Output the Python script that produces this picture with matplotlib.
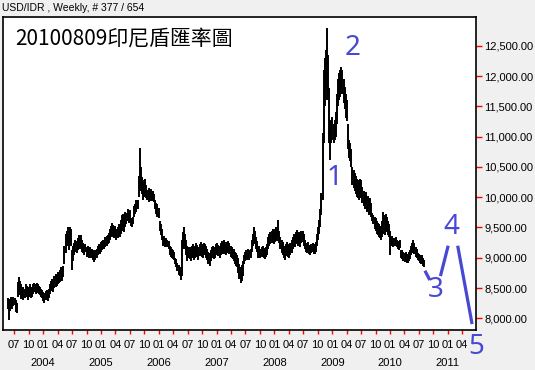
import numpy as np
import pandas as pd
import matplotlib
matplotlib.use('Agg')
import matplotlib.pyplot as plt
import matplotlib.dates as mdates
from matplotlib.ticker import FuncFormatter

# --- datos semanales USD/IDR ---
first_week = '2003-05-23'

week_lo = [
    8150, 7970, 8120, 8180, 8150, 8200, 8220, 8100, 8090,
    8350, 8450, 8380, 8320,
    8330, 8300, 8340, 8380, 8360, 8310, 8350, 8370, 8340, 8360,
    8400, 8430, 8410, 8440, 8420, 8400, 8380, 8350, 8330,
    8280, 8250, 8300, 8320, 8290, 8330,
    8400, 8450, 8470, 8430, 8500, 8520, 8540, 8560, 8580,
    8600, 8640, 8620, 8680,
    8900, 9080,
    9200, 9250, 9130, 9280, 9200,
    8800, 8950,
    9050, 9100, 9080, 9120, 9150, 9140, 9180, 9100,
    9080, 9050, 9100, 9020, 9050, 9000, 9040, 8990, 9000, 8960, 8930, 8970,
    9000, 9050, 9080, 9060, 9100, 9120, 9150, 9140, 9180, 9200, 9220, 9250,
    9300, 9340, 9380, 9350, 9330, 9360, 9300, 9320, 9350,
    9350, 9400, 9450, 9480, 9430, 9500,
    9560, 9600, 9580, 9620,
    9520, 9510, 9550,
    9680, 9720, 9750, 9800,
    10000, 10150, 10100,
    10050, 9950, 10000, 10020, 9980,
    9950, 9920, 9980, 9940, 9960, 9930, 9920,
    9800, 9720, 9680, 9650,
    9450, 9380, 9300,
    9200, 9220, 9180, 9200, 9170, 9150,
    9050, 9020, 9000, 8980, 8960,
    8900, 8850, 8780, 8720, 8700, 8637,
    8700, 9150, 9200, 9150,
    9050, 8950, 9000,
    8980, 8950, 9000, 9020, 8960, 8990, 9040, 9010, 8970, 9030,
    9050, 9020, 9000, 9060, 9040, 8990, 8960, 8900, 8870, 8950,
    8990, 9020, 8980, 9000, 9040, 9060, 9030, 9000, 9050, 9080,
    9060, 9100, 9070, 9040, 9080, 9100, 9060, 9020, 9000, 8980,
    8950, 8900, 8870, 8850,
    8750, 8650, 8583, 8620, 8700,
    8900, 8950, 8980, 8960, 9000, 8970, 9000,
    9100, 9200, 9250, 9220, 9150, 9100,
    9000, 9020, 8990, 9010, 9030, 9000, 8980, 9020, 9050,
    9150, 9200, 9230, 9250, 9280, 9220, 9260, 9300, 9280, 9350, 9250,
    9150, 9080, 9050, 9000, 8970, 9030, 9060, 9020, 9000, 9050, 9080,
    9150, 9200, 9180, 9230, 9250, 9200, 9220, 9180, 9240, 9260, 9200,
    9150, 9100, 9080, 9120, 9060, 9050, 9080, 9100, 9070, 9060, 9100,
    9200, 9300, 9400,
    9500, 9700,
    9950,
    10900, 11500, 11800, 11600, 11700,
    10900, 10610,
    10900, 10950, 10890, 10950, 11000,
    11200, 11500, 11600, 11650, 11800, 11700,
    11550, 11450, 11300, 11250,
    10800, 10650, 10600, 10500,
    10200, 10150, 10100, 10050, 10000, 9980, 9950, 10000, 9980,
    9900, 9850, 9800, 9820, 9750, 9780, 9700, 9720, 9680,
    9600, 9550, 9480, 9450, 9400, 9380, 9350, 9320, 9300,
    9350, 9400, 9380, 9450, 9420, 9380, 9350, 9050,
    9200, 9230, 9180, 9200, 9220, 9170, 9150, 9130, 9160,
    9000, 8980, 8950, 8930, 8960, 8920, 8910, 8950, 8980,
    9050, 9080, 9100, 9060, 9020, 9000,
    8960, 8950, 8920, 8900, 8900, 8870, 8850,
]

week_hi = [
    8330, 8300, 8320, 8360, 8300, 8350, 8340, 8300, 8250,
    8600, 8690, 8620, 8560,
    8500, 8520, 8480, 8560, 8540, 8500, 8510, 8560, 8520, 8500,
    8560, 8580, 8570, 8590, 8560, 8540, 8520, 8480, 8460,
    8440, 8420, 8450, 8460, 8430, 8480,
    8560, 8610, 8650, 8620, 8700, 8740, 8720, 8760, 8770,
    8800, 8850, 8830, 8870,
    9200, 9400,
    9450, 9510, 9420, 9500, 9470,
    9130, 9200,
    9250, 9300, 9280, 9330, 9370, 9350, 9380, 9300,
    9250, 9200, 9230, 9180, 9200, 9160, 9180, 9150, 9140, 9130, 9080, 9120,
    9150, 9200, 9230, 9210, 9260, 9280, 9300, 9290, 9340, 9360, 9380, 9410,
    9480, 9520, 9570, 9540, 9500, 9530, 9480, 9500, 9550,
    9560, 9620, 9700, 9720, 9650, 9750,
    9740, 9800, 9760, 9790,
    9660, 9650, 9680,
    9860, 9880, 9950, 9960,
    10350, 10811, 10500,
    10330, 10250, 10280, 10300, 10200,
    10120, 10150, 10100, 10130, 10080, 10110, 10060,
    9950, 9900, 9880, 9820,
    9600, 9560, 9480,
    9340, 9360, 9320, 9330, 9300, 9280,
    9200, 9180, 9150, 9130, 9100,
    9000, 8980, 8920, 8880, 8840, 8800,
    9300, 9420, 9508, 9400,
    9300, 9200, 9180,
    9180, 9150, 9200, 9230, 9170, 9190, 9240, 9210, 9180, 9230,
    9260, 9220, 9200, 9250, 9230, 9190, 9150, 9100, 9080, 9130,
    9170, 9200, 9160, 9180, 9220, 9250, 9210, 9190, 9240, 9270,
    9250, 9290, 9260, 9230, 9260, 9280, 9240, 9200, 9180, 9150,
    9150, 9100, 9080, 9050,
    9000, 8900, 8850, 8880, 8950,
    9050, 9100, 9130, 9110, 9140, 9120, 9150,
    9300, 9400, 9508, 9450, 9350, 9280,
    9180, 9200, 9150, 9170, 9190, 9160, 9140, 9180, 9220,
    9350, 9400, 9420, 9450, 9480, 9430, 9470, 9500, 9480, 9620, 9450,
    9340, 9300, 9260, 9200, 9180, 9230, 9260, 9220, 9200, 9250, 9300,
    9350, 9400, 9380, 9430, 9460, 9400, 9420, 9380, 9440, 9450, 9400,
    9290, 9250, 9230, 9260, 9210, 9200, 9230, 9250, 9220, 9210, 9260,
    9400, 9500, 9620,
    9800, 10066,
    11056,
    12100, 12300, 12430, 12792, 12350,
    11800, 11270,
    11250, 11320, 11200, 11280, 11400,
    11700, 11950, 12050, 12100, 12150, 12100,
    11950, 11820, 11700, 11600,
    11200, 10950, 10900, 10800,
    10500, 10450, 10400, 10350, 10300, 10280, 10250, 10300, 10280,
    10170, 10100, 10050, 10080, 10000, 10020, 9950, 9980, 9900,
    9735, 9700, 9680, 9650, 9600, 9580, 9550, 9520, 9500,
    9600, 9750, 9700, 9720, 9680, 9600, 9550, 9450,
    9340, 9360, 9320, 9330, 9350, 9300, 9280, 9270, 9290,
    9130, 9120, 9100, 9080, 9100, 9060, 9050, 9090, 9120,
    9200, 9250, 9290, 9240, 9180, 9150,
    9078, 9060, 9040, 9020, 9040, 9000, 8970,
]

# --- proyección de ondas (Elliott) ---
wave3_dates = ['2010-08-09', '2010-09-09']
wave3_vals = [8786, 8632]
wave4_dates = ['2010-11-15', '2011-01-03']
wave4_vals = [8698, 9199]
wave5_dates = ['2011-03-04', '2011-06-03']
wave5_vals = [9199, 7906]

wave_labels = ['1', '2', '3', '4', '5']
label_dates = ['2009-01-12', '2009-05-12', '2010-10-16', '2011-01-25', '2011-07-02']
label_vals = [10316, 12462, 8467, 9512, 7526]

y_ticks = [8000, 8500, 9000, 9500, 10000, 10500, 11000, 11500, 12000, 12500]
years = [2004, 2005, 2006, 2007, 2008, 2009, 2010, 2011]

# --- figura ---
fig = plt.figure(figsize=(5.35, 3.70), dpi=100, facecolor='#f0f0f0')
ax = fig.add_axes([0.0065, 0.108, 0.883, 0.846])
ax.set_facecolor('white')

dates = pd.date_range(first_week, periods=len(week_lo), freq='W-FRI')
ax.vlines(dates, week_lo, week_hi, color='black', lw=1.4)

blue = '#4848d4'
for d, v in [(wave3_dates, wave3_vals), (wave4_dates, wave4_vals), (wave5_dates, wave5_vals)]:
    ax.plot(pd.to_datetime(d), v, color=blue, lw=2.3, solid_capstyle='butt')
for t, d, v in zip(wave_labels, label_dates, label_vals):
    ax.text(pd.Timestamp(d), v, t, color=blue, fontsize=20, family='Noto Sans',
            ha='center', va='center', clip_on=False)

ax.set_xlim(pd.Timestamp('2003-04-25'), pd.Timestamp('2011-06-27'))
ax.set_ylim(7807, 12974)

# eje y a la derecha
ax.yaxis.tick_right()
ax.set_yticks(y_ticks)
ax.yaxis.set_major_formatter(FuncFormatter(lambda v, p: f'{v:,.2f}'))
ax.tick_params(axis='y', which='major', direction='out', length=4, width=1,
               color='red', labelsize=8, pad=2)

# eje x: trimestres y años
quarters = pd.date_range('2003-07-01', '2011-04-01', freq='QS-JAN')
ax.set_xticks(quarters)
ax.set_xticklabels([q.strftime('%m') for q in quarters])
jan = [pd.Timestamp(f'{y}-01-01') for y in years]
ax.xaxis.remove_overlapping_locs = False
ax.set_xticks(jan, minor=True)
ax.set_xticklabels([str(y) for y in years], minor=True)
ax.tick_params(axis='x', which='major', direction='out', length=3, width=1,
               color='red', labelsize=8, pad=4)
ax.tick_params(axis='x', which='minor', length=0, labelsize=8, pad=20)

for lab in ax.get_xticklabels(which='both') + ax.get_yticklabels():
    lab.set_family('Liberation Sans')

for s in ax.spines.values():
    s.set_color('black')
    s.set_linewidth(1.2)

ax.text(0.0243, 0.9105, '20100809印尼盾匯率圖', transform=ax.transAxes,
        fontsize=15, family=['Noto Sans CJK TC', 'DejaVu Sans'], va='baseline', ha='left')
fig.text(0.004, 0.970, 'USD/IDR , Weekly, # 377 / 654', fontsize=7.5,
         family='Liberation Sans', va='baseline', ha='left')

fig.savefig('out.png', dpi=100, facecolor=fig.get_facecolor())
